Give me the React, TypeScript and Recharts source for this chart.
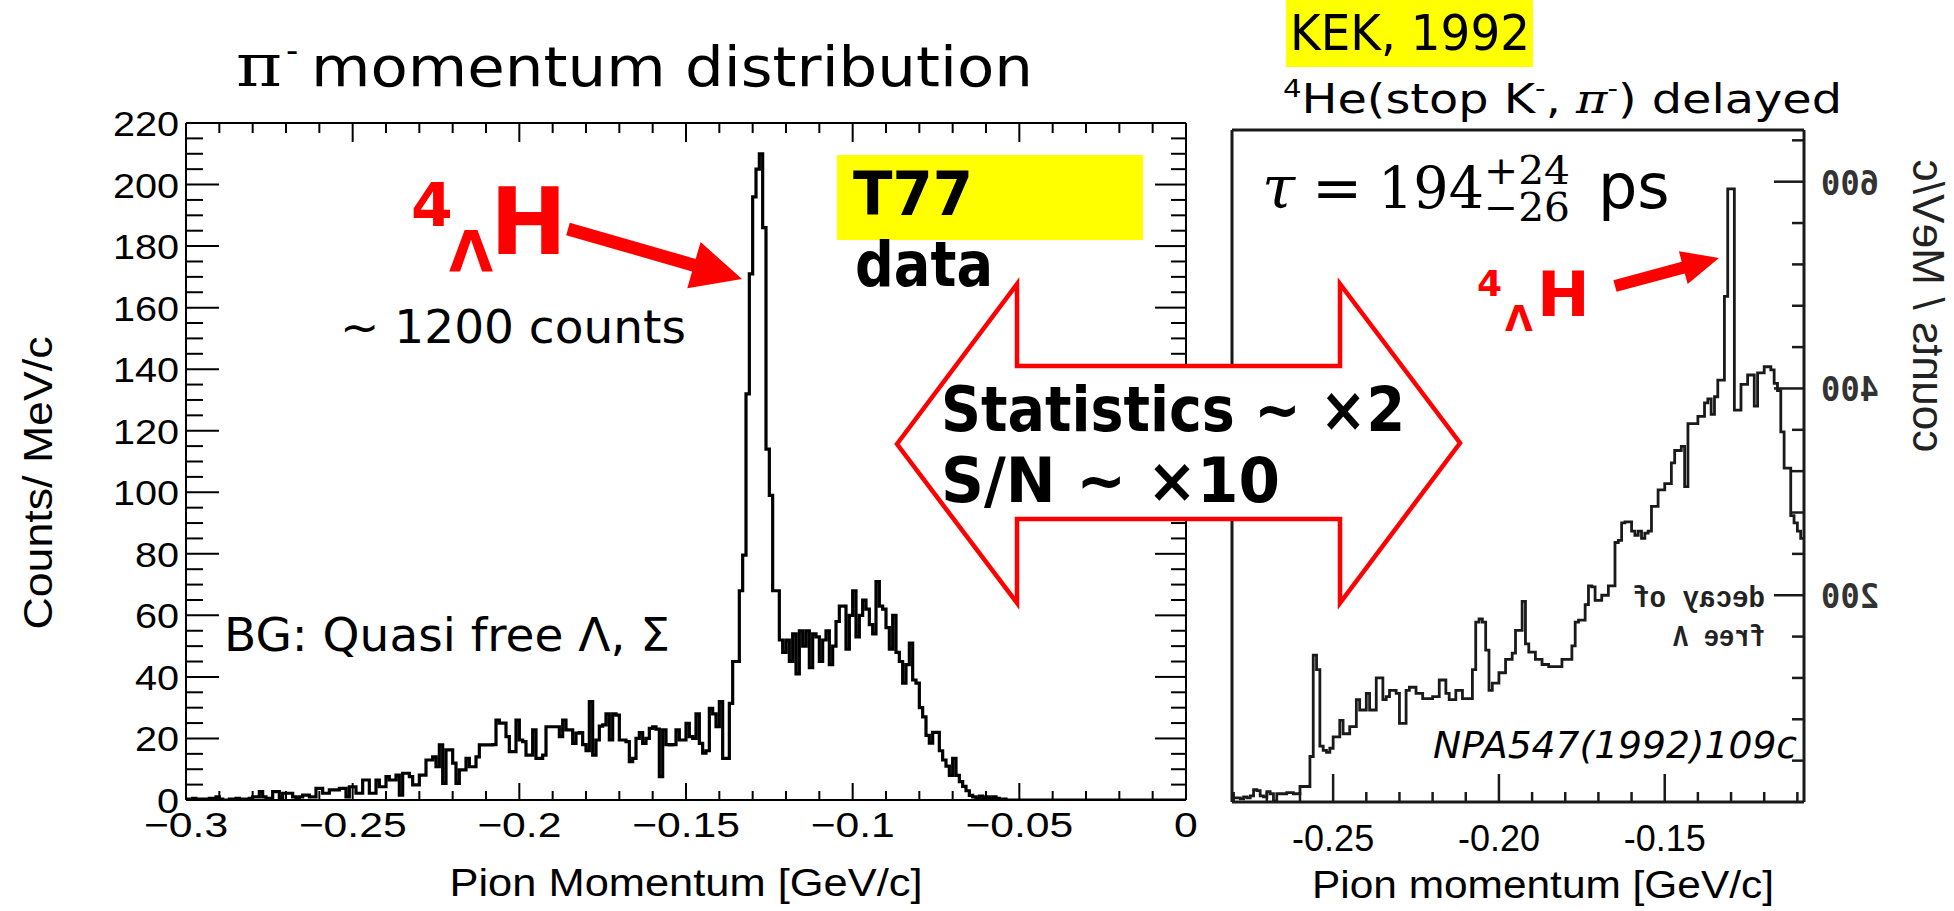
import React from 'react';
import { LineChart, Line, XAxis, YAxis } from 'recharts';

// ---------------- T77 data (left) : counts / MeV/c, 1 MeV bins from -0.300 GeV/c ----------------
const leftBinStart = -0.3;
const leftBinWidth = 0.001;
const leftCounts: number[] = [
  0.3, 0.3, 0.5, 0, 0.3, 0.3, 0.3, 0.5, 0.3, 1,
  0.3, 0, 0, 0.3, 0.3, 0.5, 0.3, 0.3, 0.3, 0.5,
  1, 1, 2.7, 1, 0.5, 0.5, 2.7, 2.7, 0.5, 2.2,
  2.2, 2.2, 1, 0.5, 1, 1.6, 1.6, 1, 1, 3.8,
  3.8, 2.2, 2.2, 3.3, 3.3, 3.3, 3.8, 3.8, 1, 4.3,
  4.3, 2.2, 2.2, 6.5, 6.5, 2.2, 2.2, 6.5, 4.3, 4.3,
  7.6, 6.5, 6.5, 8.1, 1.6, 8.7, 8.7, 7.6, 4.9, 4.9,
  8.1, 8.1, 13, 13, 14, 10.8, 17.9, 5.4, 16.3, 16.3,
  12, 5.4, 9.8, 9.8, 13.5, 10.8, 10.8, 14, 17.9, 17.9,
  17.9, 17.9, 18, 26, 25, 25, 20.6, 15.7, 15.7, 26,
  19.5, 19, 14.6, 14.6, 22.8, 13.5, 13.5, 14.6, 23.8, 23.8,
  23.8, 23.8, 20.6, 26, 22.8, 22.8, 18.4, 21.7, 21.9, 18,
  16, 32, 14.6, 19.5, 24, 24.4, 28, 19.5, 28, 27.6,
  19.5, 19.5, 19, 12.5, 13.5, 20, 21.9, 18.4, 20, 23.3,
  23.8, 23, 7.6, 22.8, 18, 17.9, 18, 22.8, 19.5, 19.5,
  24.9, 20.6, 20, 28, 18.4, 15.2, 16, 29.8, 28, 23.8,
  32, 13.5, 13.5, 31.4, 45, 45, 68, 79.6, 132, 171,
  196, 205, 210, 186, 114, 99, 68, 68, 52, 48,
  52, 45, 54, 41, 55, 50, 55, 43, 54, 53,
  45, 52, 55, 44, 50, 58, 63, 63, 49, 60,
  68, 53, 60, 65, 62, 57, 54, 71, 63, 62,
  56, 49, 60, 48, 45, 38, 44, 51, 39, 38,
  30, 27, 21, 18.5, 22, 22, 16, 13, 11, 8,
  13.5, 8, 6, 4.4, 3, 1.5, 1, 0.5, 1.3, 0.5,
  1, 0.5, 1, 0.5, 0, 0.3, 0, 0, 0, 0,
  0, 0, 0, 0, 0, 0, 0, 0, 0, 0,
  0, 0, 0, 0, 0, 0, 0, 0, 0, 0,
  0, 0, 0, 0, 0, 0, 0, 0, 0, 0,
  0, 0, 0, 0, 0, 0, 0, 0, 0, 0,
  0, 0, 0, 0, 0, 0, 0, 0, 0, 0,
];
const leftXMajor = [-0.3, -0.25, -0.2, -0.15, -0.1, -0.05, 0];
const leftXLabels = ['\u22120.3', '\u22120.25', '\u22120.2', '\u22120.15', '\u22120.1', '\u22120.05', '0'];
const leftYLabels = [0, 20, 40, 60, 80, 100, 120, 140, 160, 180, 200, 220];

// ---------------- KEK 1992 (right) : counts / MeV/c, 1 MeV bins from -0.280 GeV/c ----------------
const rightBinStart = -0.28;
const rightBinWidth = 0.001;
const rightCounts: number[] = [
  4, 4, 3, 5, 4, 6, 12, 11, 6, 5,
  10, 8, 1, 8, 8, 8, 9, 9, 8, 8,
  15, 15, 15, 44, 142, 128, 54, 50, 48, 52,
  63, 63, 79, 66, 66, 73, 73, 99, 89, 89,
  105, 89, 89, 120, 120, 99, 102, 108, 108, 105,
  76, 76, 108, 111, 111, 105, 105, 100, 100, 100,
  102, 102, 118, 118, 105, 99, 99, 108, 108, 100,
  100, 100, 128, 174, 177, 174, 147, 108, 115, 115,
  125, 125, 138, 138, 144, 166, 166, 194, 153, 145,
  145, 138, 138, 133, 133, 131, 131, 131, 131, 138,
  138, 138, 151, 174, 176, 176, 191, 209, 208, 195,
  195, 200, 200, 209, 209, 251, 253, 270, 271, 271,
  262, 258, 262, 255, 260, 262, 286, 286, 302, 302,
  308, 308, 328, 340, 340, 344, 305, 366, 366, 366,
  373, 373, 386, 390, 375, 392, 408, 408, 489, 593,
  593, 379, 379, 404, 404, 413, 413, 383, 415, 415,
  421, 421, 418, 405, 398, 358, 323, 323, 277, 270,
  262, 255,
];
const rightXMajor = [-0.25, -0.2, -0.15];
const rightXLabels = ['-0.25', '-0.20', '-0.15'];
const rightYMajor = [200, 400, 600];
const rightYLabels = ['200', '400', '600'];

// ---------------- build tables for the library ----------------
const r6 = (v: number) => Math.round(v * 1e6) / 1e6;
const buildHist = (start: number, w: number, counts: number[]) => {
  const d = counts.map((c, i) => ({ x: r6(start + i * w), c }));
  d.push({ x: r6(start + counts.length * w), c: counts[counts.length - 1] });
  return d;
};
const leftData = buildHist(leftBinStart, leftBinWidth, leftCounts);
const rightData = buildHist(rightBinStart, rightBinWidth, rightCounts);

const leftXTicks = Array.from({ length: 31 }, (_, i) => r6(-0.3 + i * 0.01));
const leftYTicks = Array.from({ length: 45 }, (_, i) => i * 5);
const rightXTicks = Array.from({ length: 18 }, (_, i) => r6(-0.28 + i * 0.01));
const rightYTicks = Array.from({ length: 17 }, (_, i) => i * 40);

const isMult = (v: number, step: number) => Math.abs(v / step - Math.round(v / step)) < 1e-6;
const findIdx = (arr: number[], v: number) => arr.findIndex((m) => Math.abs(m - v) < 1e-9);

const ROOT_FONT = 'Liberation Sans, Arial, sans-serif';
const SLIDE_FONT = 'DejaVu Sans, Verdana, sans-serif';

// ---------------- tick renderers (left, ROOT style) ----------------
const leftBottomTick = (props: any) => {
  const { x, y, payload } = props;
  const v = payload.value;
  const major = isMult(v, 0.05);
  const li = findIdx(leftXMajor, v);
  return (
    <g>
      <line x1={x} x2={x} y1={y} y2={y - (major ? 17 : 9)} stroke="#000" strokeWidth={2} />
      {li >= 0 && (
        <text transform={`translate(${x},${y + 37}) scale(1.22,1)`} textAnchor="middle" fontFamily={ROOT_FONT} fontSize={35} fill="#000">
          {leftXLabels[li]}
        </text>
      )}
    </g>
  );
};
const leftTopTick = (props: any) => {
  const { x, y, payload } = props;
  const major = isMult(payload.value, 0.05);
  return <line x1={x} x2={x} y1={y} y2={y + (major ? 19 : 10)} stroke="#000" strokeWidth={2} />;
};
const leftYTick = (props: any) => {
  const { x, y, payload } = props;
  const v = payload.value;
  const major = isMult(v, 20);
  const li = leftYLabels.indexOf(v);
  return (
    <g>
      <line x1={x} x2={x + (major ? 33 : 17)} y1={y} y2={y} stroke="#000" strokeWidth={2} />
      {li >= 0 && (
        <text transform={`translate(${x - 7},${y + 13}) scale(1.1,1)`} textAnchor="end" fontFamily={ROOT_FONT} fontSize={36} fill="#000">
          {String(leftYLabels[li])}
        </text>
      )}
    </g>
  );
};
const leftRightTick = (props: any) => {
  const { x, y, payload } = props;
  const major = isMult(payload.value, 20);
  return <line x1={x} x2={x - (major ? 31 : 15)} y1={y} y2={y} stroke="#000" strokeWidth={2} />;
};

// ---------------- tick renderers (right, scanned figure) ----------------
const INK = '#1a1a1a';
const rightBottomTick = (props: any) => {
  const { x, y, payload } = props;
  const v = payload.value;
  const li = findIdx(rightXMajor, v);
  const major = li >= 0;
  return (
    <g>
      <line x1={x} x2={x} y1={y} y2={y - (major ? 28 : 10)} stroke={INK} strokeWidth={2.5} />
      {major && (
        <text x={x} y={y + 49} textAnchor="middle" fontFamily={ROOT_FONT} fontSize={36} fill="#000">
          {rightXLabels[li]}
        </text>
      )}
    </g>
  );
};
const rightYTick = (props: any) => {
  const { x, y, payload } = props;
  const v = payload.value;
  const li = rightYMajor.indexOf(v);
  const major = li >= 0;
  if (v === 0) return <g />;
  return (
    <g>
      <line x1={x} x2={x - (major ? 30 : 12)} y1={y} y2={y} stroke={INK} strokeWidth={2.5} />
      {major && (
        <text transform={`translate(${x + 46},${y + 13}) scale(-1,1)`} textAnchor="middle" fontFamily="DejaVu Sans Mono, monospace" fontWeight="bold" fontSize={34} textLength={58} lengthAdjust="spacingAndGlyphs" fill="#333">
          {rightYLabels[li]}
        </text>
      )}
    </g>
  );
};
const noTick = () => <g />;

// ---------------- annotation helpers ----------------
const arrowPoly = (x1: number, y1: number, x2: number, y2: number, sw: number, hl: number, hw: number) => {
  const dx = x2 - x1, dy = y2 - y1, L = Math.hypot(dx, dy);
  const ux = dx / L, uy = dy / L, nx = -uy, ny = ux;
  const bx = x2 - ux * hl, by = y2 - uy * hl;
  const pts = [
    [x1 + (nx * sw) / 2, y1 + (ny * sw) / 2],
    [bx + (nx * sw) / 2, by + (ny * sw) / 2],
    [bx + nx * hw, by + ny * hw],
    [x2, y2],
    [bx - nx * hw, by - ny * hw],
    [bx - (nx * sw) / 2, by - (ny * sw) / 2],
    [x1 - (nx * sw) / 2, y1 - (ny * sw) / 2],
  ];
  return pts.map((p) => p.map((n) => n.toFixed(1)).join(',')).join(' ');
};

type TP = {
  x: number; y: number; size: number; w?: number; children: any; weight?: any; fill?: string;
  family?: string; anchor?: 'start' | 'middle' | 'end'; italic?: boolean;
};
const T = (p: TP) => (
  <text
    x={p.x}
    y={p.y}
    fontSize={p.size}
    fontFamily={p.family ?? SLIDE_FONT}
    fontWeight={p.weight ?? 'normal'}
    fontStyle={p.italic ? 'italic' : 'normal'}
    fill={p.fill ?? '#000'}
    textAnchor={p.anchor ?? 'start'}
    {...(p.w ? { textLength: p.w, lengthAdjust: 'spacingAndGlyphs' } : {})}
  >
    {p.children}
  </text>
);

const RED = '#ff0000';

export default function App() {
  return (
    <div style={{ position: 'absolute', left: 0, top: 0, width: 1954, height: 911, background: '#fff', overflow: 'hidden' }}>
      {/* Left: T77 histogram */}
      <div style={{ position: 'absolute', left: 0, top: 0 }}>
        <LineChart width={1240} height={911} data={leftData} margin={{ top: 122, left: 185, right: 53, bottom: 110 }}>
          <XAxis
            xAxisId="b" dataKey="x" type="number" domain={[-0.3, 0]} allowDataOverflow
            ticks={leftXTicks} interval={0} height={1} tickSize={0} tickMargin={0}
            tickLine={false} tick={leftBottomTick} axisLine={{ stroke: '#000', strokeWidth: 2 }}
          />
          <XAxis
            xAxisId="t" orientation="top" dataKey="x" type="number" domain={[-0.3, 0]} allowDataOverflow
            ticks={leftXTicks} interval={0} height={1} tickSize={0} tickMargin={0}
            tickLine={false} tick={leftTopTick} axisLine={{ stroke: '#000', strokeWidth: 2 }}
          />
          <YAxis
            yAxisId="l" type="number" domain={[0, 220]} allowDataOverflow
            ticks={leftYTicks} interval={0} width={1} tickSize={0} tickMargin={0}
            tickLine={false} tick={leftYTick} axisLine={{ stroke: '#000', strokeWidth: 2 }}
          />
          <YAxis
            yAxisId="r" orientation="right" type="number" domain={[0, 220]} allowDataOverflow
            ticks={leftYTicks} interval={0} width={1} tickSize={0} tickMargin={0}
            tickLine={false} tick={leftRightTick} axisLine={{ stroke: '#000', strokeWidth: 2 }}
          />
          <Line
            xAxisId="b" yAxisId="l" type="stepAfter" dataKey="c" stroke="#000" strokeWidth={3.2}
            dot={false} activeDot={false} isAnimationActive={false}
          />
        </LineChart>
      </div>

      {/* Right: KEK 1992 histogram */}
      <div style={{ position: 'absolute', left: 1150, top: 0 }}>
        <LineChart width={804} height={911} data={rightData} margin={{ top: 129, left: 81, right: 149, bottom: 108 }}>
          <XAxis
            xAxisId="b" dataKey="x" type="number" domain={[-0.2805, -0.108]} allowDataOverflow
            ticks={rightXTicks} interval={0} height={1} tickSize={0} tickMargin={0}
            tickLine={false} tick={rightBottomTick} axisLine={{ stroke: INK, strokeWidth: 3 }}
          />
          <XAxis
            xAxisId="t" orientation="top" dataKey="x" type="number" domain={[-0.2805, -0.108]} allowDataOverflow
            ticks={rightXTicks} interval={0} height={1} tickSize={0} tickMargin={0}
            tickLine={false} tick={noTick} axisLine={{ stroke: INK, strokeWidth: 3 }}
          />
          <YAxis
            yAxisId="l" type="number" domain={[0, 650]} allowDataOverflow
            ticks={rightYTicks} interval={0} width={1} tickSize={0} tickMargin={0}
            tickLine={false} tick={noTick} axisLine={{ stroke: INK, strokeWidth: 3 }}
          />
          <YAxis
            yAxisId="r" orientation="right" type="number" domain={[0, 650]} allowDataOverflow
            ticks={rightYTicks} interval={0} width={1} tickSize={0} tickMargin={0}
            tickLine={false} tick={rightYTick} axisLine={{ stroke: INK, strokeWidth: 3 }}
          />
          <Line
            xAxisId="b" yAxisId="l" type="stepAfter" dataKey="c" stroke={INK} strokeWidth={2.8}
            dot={false} activeDot={false} isAnimationActive={false}
          />
        </LineChart>
      </div>

      {/* Slide annotations */}
      <svg width={1954} height={911} style={{ position: 'absolute', left: 0, top: 0, pointerEvents: 'none' }}>
        {/* title */}
        <T x={236} y={86} size={60} family="DejaVu Serif" w={46}>π</T>
        <T x={286} y={62} size={34}>-</T>
        <T x={311} y={86} size={56} w={722}>momentum distribution</T>

        {/* KEK header */}
        <rect x={1286} y={0} width={247} height={67} fill="#ffff00" />
        <T x={1290} y={50} size={50} w={240}>KEK, 1992</T>
        <text x={1283} y={113} fontSize={41} fontFamily={SLIDE_FONT} textLength={559} lengthAdjust="spacingAndGlyphs" fill="#000">
          <tspan fontSize={25} dy={-16}>4</tspan>
          <tspan dy={16}>He(stop K</tspan>
          <tspan fontSize={25} dy={-16}>-</tspan>
          <tspan dy={16}>, </tspan>
          <tspan fontFamily="DejaVu Serif" fontStyle="italic">π</tspan>
          <tspan fontSize={25} dy={-16}>-</tspan>
          <tspan dy={16}>) delayed</tspan>
        </text>

        {/* axis titles */}
        <text transform="translate(52,483) rotate(-90)" textAnchor="middle" fontSize={40} fontFamily={ROOT_FONT} textLength={293} lengthAdjust="spacingAndGlyphs" fill="#000">
          Counts/ MeV/c
        </text>
        <text x={686} y={896} textAnchor="middle" fontSize={38} fontFamily={ROOT_FONT} textLength={473} lengthAdjust="spacingAndGlyphs" fill="#000">
          Pion Momentum [GeV/c]
        </text>
        <text x={1543} y={898} textAnchor="middle" fontSize={38} fontFamily={ROOT_FONT} textLength={462} lengthAdjust="spacingAndGlyphs" fill="#000">
          Pion momentum [GeV/c]
        </text>
        <text transform="translate(1913,306) scale(-1,1) rotate(-90)" textAnchor="middle" fontSize={44} fontFamily={ROOT_FONT} textLength={293} lengthAdjust="spacingAndGlyphs" fill="#222">
          counts / MeV/c
        </text>

        {/* left annotations */}
        <T x={411} y={226} size={60} weight="bold" fill={RED}>4</T>
        <T x={449} y={272} size={57} weight="bold" fill={RED}>Λ</T>
        <T x={490} y={254} size={92} weight="bold" fill={RED}>H</T>
        <polygon points={arrowPoly(568, 229, 742, 279, 13, 50, 24)} fill={RED} />
        <T x={340} y={343} size={47}>~ 1200 counts</T>
        <T x={224} y={651} size={47}>BG: Quasi free Λ, Σ</T>
        <rect x={837} y={155} width={306} height={85} fill="#ffff00" />
        <T x={853} y={215} size={60} weight="bold" w={120}>T77</T>
        <T x={855} y={286} size={63} weight="bold" w={138}>data</T>

        {/* double arrow */}
        <polygon
          points="897,444 1017,284 1017,366 1340,366 1340,284 1460,443 1340,603 1340,519 1017,519 1017,603"
          fill="#fff" stroke={RED} strokeWidth={4.5} strokeLinejoin="miter"
        />
        <T x={941} y={431} size={63} weight="bold" w={464}>Statistics ~ ×2</T>
        <T x={941} y={502} size={63} weight="bold" w={339}>S/N ~ ×10</T>

        {/* right annotations */}
        <T x={1262} y={208} size={60} family="DejaVu Serif" italic>τ</T>
        <T x={1312} y={208} size={60} family="DejaVu Serif">=</T>
        <T x={1378} y={208} size={58} family="DejaVu Serif" w={106}>194</T>
        <T x={1484} y={184} size={40} family="DejaVu Serif" w={86}>+24</T>
        <T x={1484} y={221} size={40} family="DejaVu Serif" w={86}>−26</T>
        <T x={1598} y={208} size={62}>ps</T>

        <T x={1477} y={296} size={36} weight="bold" fill={RED}>4</T>
        <T x={1505} y={331} size={36} weight="bold" fill={RED}>Λ</T>
        <T x={1537} y={316} size={63} weight="bold" fill={RED}>H</T>
        <polygon points={arrowPoly(1615, 286, 1719, 258, 12, 37, 17)} fill={RED} />

        <text transform="translate(1699,607) scale(-1,1)" textAnchor="middle" fontSize={30} fontFamily="Liberation Mono, monospace" fontWeight="bold" textLength={132} lengthAdjust="spacingAndGlyphs" fill="#222">
          decay of
        </text>
        <text transform="translate(1719,646) scale(-1,1)" textAnchor="middle" fontSize={30} fontFamily="Liberation Mono, monospace" fontWeight="bold" textLength={92} lengthAdjust="spacingAndGlyphs" fill="#222">
          free Λ
        </text>
        <T x={1433} y={758} size={38} italic w={364}>NPA547(1992)109c</T>
      </svg>
    </div>
  );
}
